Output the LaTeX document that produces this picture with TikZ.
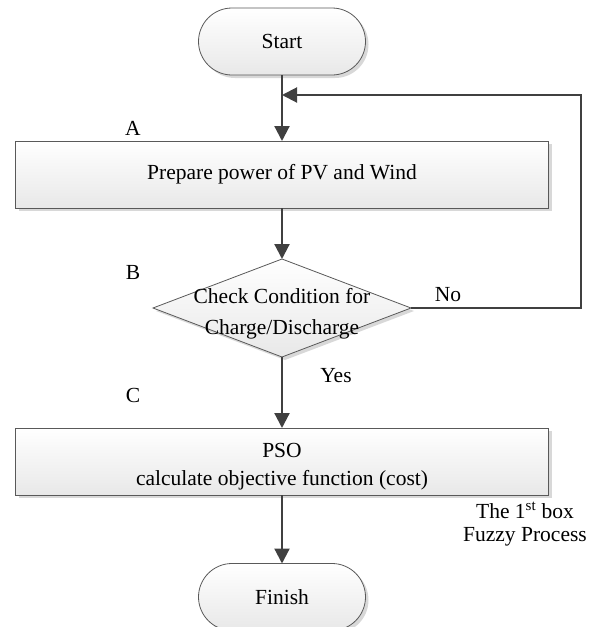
\documentclass[tikz,border=0pt]{standalone}
\usepackage{fontspec}
\setmainfont{Liberation Serif}
\usetikzlibrary{shapes.misc,shapes.geometric,arrows.meta,shadows}
\begin{document}
\begin{tikzpicture}[x=1pt,y=-1pt,
  font=\fontsize{21.5}{24}\selectfont,
  base/.style={draw=black!65, line width=0.8pt, top color=white, bottom color=black!9,
    inner sep=0pt, outer sep=0pt,
    drop shadow={shadow xshift=3pt,shadow yshift=-3pt,fill=black!30,opacity=0.5}},
  terminal/.style={base, rounded rectangle, minimum width=167pt, minimum height=67pt},
  process/.style={base, rectangle, minimum width=533pt, minimum height=67pt, align=center},
  decision/.style={base, diamond, minimum width=258pt, minimum height=98pt},
  flow/.style={draw=black!75, line width=2.2pt, -{Triangle[length=15pt,width=15pt]}},
  tag/.style={inner sep=0pt, align=center}]
\path[use as bounding box, clip] (0,0) rectangle (596,627);

% flowchart blocks
\node[terminal] (start) at (282,41.5) {Start};
\node[process] (prep) at (282,174.5) {Prepare power of PV and Wind};
\node[decision] (dia) at (282,308) {};
\node[tag] (diatext) at (282,314)
  {Check Condition for\\[7pt]Charge/Discharge};
\node[process] (pso) at (282,461.5) {};
\node[tag, font=\fontsize{21.5}{28}\selectfont] (psotext) at (282,467)
  {PSO\\calculate objective function (cost)};
\node[terminal] (finish) at (282,597) {Finish};

% side labels
\node[tag] (la) at (133,128) {A};
\node[tag] (lb) at (133,272) {B};
\node[tag] (lc) at (133,395) {C};
\node[tag] (no) at (448,295) {No};
\node[tag] (yes) at (336,376) {Yes};
\node[tag, font=\fontsize{21.5}{23}\selectfont] (fuzzy) at (525,524)
  {The 1\textsuperscript{st} box\\Fuzzy Process};

% connectors
\coordinate (loopR) at (581,95);
\coordinate (join) at (282,95);
\draw[flow] (start.south) -- (prep.north);
\draw[flow] (prep.south) -- (dia.north);
\draw[flow] (dia.south) -- (pso.north);
\draw[flow] (pso.south) -- (finish.north);
\draw[flow, line width=2pt] (dia.east) -| (loopR) -- (join);
\end{tikzpicture}
\end{document}
